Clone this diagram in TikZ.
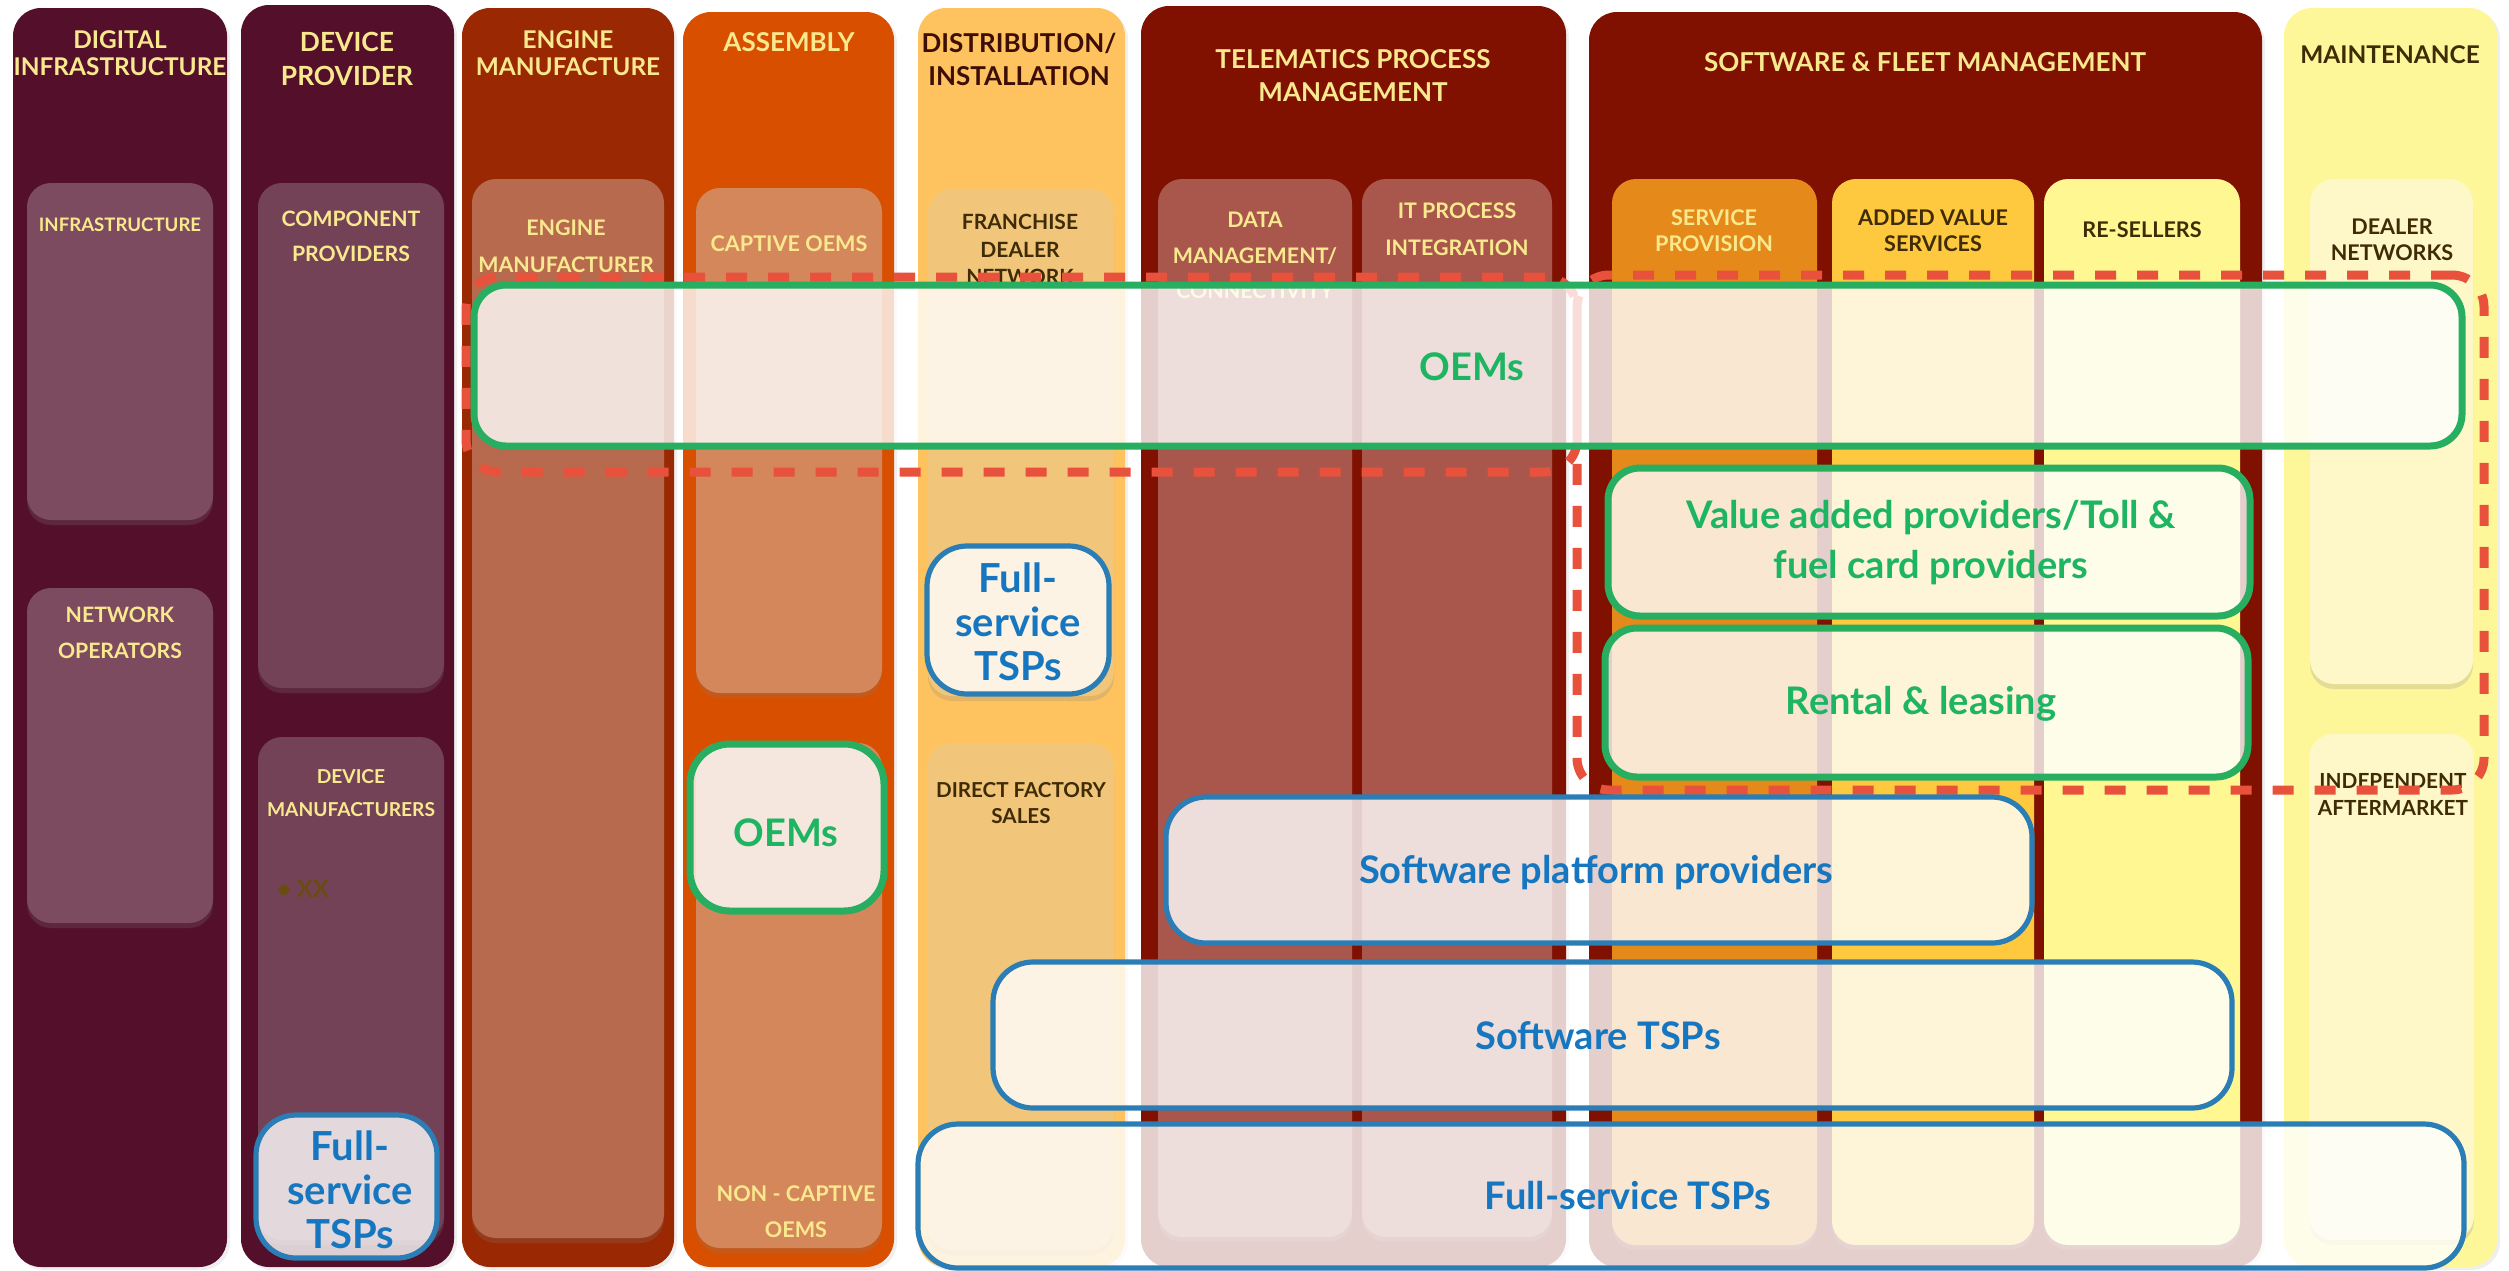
\documentclass[tikz,border=0pt]{standalone}
\usepackage{fontspec}
\setmainfont{Lato}
\usetikzlibrary{fit,shadows}
\definecolor{maroon}{HTML}{54102A}
\definecolor{digin}{HTML}{7D4B5F}
\definecolor{devin}{HTML}{744256}
\definecolor{engc}{HTML}{9A2803}
\definecolor{engin}{HTML}{B86A4E}
\definecolor{asmc}{HTML}{D84F00}
\definecolor{asmin}{HTML}{D5875C}
\definecolor{disc}{HTML}{FEC35E}
\definecolor{disin}{HTML}{F1C67A}
\definecolor{telc}{HTML}{801000}
\definecolor{telin}{HTML}{A9574C}
\definecolor{servc}{HTML}{E5891B}
\definecolor{addc}{HTML}{FEC93F}
\definecolor{resc}{HTML}{FEF792}
\definecolor{mntc}{HTML}{FEF79A}
\definecolor{mntin}{HTML}{FEF7C8}
\definecolor{ttlc}{HTML}{F9E98E}
\definecolor{darkttl}{HTML}{3D0E06}
\definecolor{olivec}{HTML}{3F2C06}
\definecolor{bulc}{HTML}{6A4C12}
\definecolor{grn}{HTML}{27AE60}
\definecolor{grntxt}{HTML}{1DB562}
\definecolor{blu}{HTML}{2A7DB5}
\definecolor{blutxt}{HTML}{1677C0}
\definecolor{rdash}{HTML}{E8513C}
\begin{document}
\begin{tikzpicture}[x=0.5pt,y=-0.5pt,
  col/.style={rounded corners=14pt, inner sep=0pt, outer sep=0pt,
    drop shadow={opacity=0.12, shadow xshift=1.5pt, shadow yshift=-1.5pt}},
  inb/.style={rounded corners=12pt, inner sep=0pt, outer sep=0pt,
    drop shadow={opacity=0.22, shadow xshift=0pt, shadow yshift=-2.5pt}},
  ttl/.style={text=ttlc, align=center, inner sep=0pt},
  lbl/.style={text=ttlc, align=center, inner sep=0pt},
  ov/.style={rounded corners=16pt, inner sep=0pt, outer sep=0pt, fill=white, fill opacity=0.8},
  ovg/.style={ov, draw=grn, line width=3.5pt},
  ovb/.style={ov, draw=blu, line width=2.6pt},
  ovtxt/.style={inner sep=0pt, align=center},
  reddash/.style={draw=rdash, line width=4.5pt, dash pattern=on 10.5pt off 10.5pt,
    rounded corners=16pt, inner sep=0pt, outer sep=0pt}
]
\fill[white] (0,0) rectangle (2509,1270);
\useasboundingbox (0,0) rectangle (2509,1270);

% ---------- columns
\node[col, fill=maroon, fit={(13,8)(227,1267)}] (cDig) {};
\node[col, fill=maroon, fit={(241,5)(454,1267)}] (cDev) {};
\node[col, fill=engc, fit={(462,8)(674,1267)}] (cEng) {};
\node[col, fill=asmc, fit={(683,12)(894,1267)}] (cAsm) {};
\node[col, fill=disc, fit={(918,8)(1125,1267)}] (cDis) {};
\node[col, fill=telc, fit={(1141,6)(1566,1267)}] (cTel) {};
\node[col, fill=telc, fit={(1589,12)(2262,1267)}] (cSw) {};
\node[col, fill=mntc, fit={(2284,8)(2497,1267)}] (cMnt) {};

% ---------- column titles
\node[ttl, font=\bfseries\fontsize{12.2}{13.5}\selectfont] (tDig) at (120,53.5) {DIGITAL\\INFRASTRUCTURE};
\node[ttl, font=\bfseries\fontsize{13.2}{17}\selectfont] (tDev) at (347,59) {DEVICE\\PROVIDER};
\node[ttl, font=\bfseries\fontsize{12.2}{13.5}\selectfont] (tEng) at (568,53.5) {ENGINE\\MANUFACTURE};
\node[ttl, font=\bfseries\fontsize{13}{17}\selectfont] (tAsm) at (789,42) {ASSEMBLY};
\node[ttl, text=darkttl, font=\bfseries\fontsize{13}{16.5}\selectfont] (tDis) at (1019,59.5) {DISTRIBUTION/\\INSTALLATION};
\node[ttl, font=\bfseries\fontsize{13}{16.5}\selectfont] (tTel) at (1353,75.5) {TELEMATICS PROCESS\\MANAGEMENT};
\node[ttl, font=\bfseries\fontsize{13}{16.5}\selectfont] (tSw) at (1925,62) {SOFTWARE \& FLEET MANAGEMENT};
\node[ttl, text=olivec, font=\bfseries\fontsize{12.2}{16.5}\selectfont] (tMnt) at (2390,55) {MAINTENANCE};

% ---------- inner boxes
\node[inb, fill=digin, fit={(27,183)(213,520)}] (iInfra) {};
\node[inb, fill=digin, fit={(27,588)(213,923)}] (iNet) {};
\node[inb, fill=devin, fit={(258,183)(444,688)}] (iComp) {};
\node[inb, fill=devin, fit={(258,737)(444,1240)}] (iDevM) {};
\node[inb, fill=engin, fit={(472,179)(664,1238)}] (iEng) {};
\node[inb, fill=asmin, fit={(696,188)(882,693)}] (iCapt) {};
\node[inb, fill=asmin, fit={(696,743)(882,1248)}] (iNonC) {};
\node[inb, fill=disin, fit={(928,189)(1114,696)}] (iFran) {};
\node[inb, fill=disin, fit={(927,743)(1114,1250)}] (iDir) {};
\node[inb, fill=telin, fit={(1158,179)(1352,1237)}] (iData) {};
\node[inb, fill=telin, fit={(1362,179)(1552,1237)}] (iIT) {};
\node[inb, fill=servc, fit={(1612,179)(1817,1245)}] (iServ) {};
\node[inb, fill=addc, fit={(1832,179)(2034,1245)}] (iAdd) {};
\node[inb, fill=resc, fit={(2044,179)(2240,1245)}] (iRes) {};
\node[inb, fill=mntin, fit={(2310,179)(2473,684)}] (iDeal) {};
\node[inb, fill=mntin, fit={(2309,734)(2474,1240)}] (iInd) {};

% ---------- inner labels
\node[lbl, font=\bfseries\fontsize{9.3}{12}\selectfont] (lInfra) at (120,225) {INFRASTRUCTURE};
\node[lbl, font=\bfseries\fontsize{10.6}{18}\selectfont] (lNet) at (120,633) {NETWORK\\OPERATORS};
\node[lbl, font=\bfseries\fontsize{10.6}{17.5}\selectfont] (lComp) at (351,236.5) {COMPONENT\\PROVIDERS};
\node[lbl, font=\bfseries\fontsize{9.6}{16.5}\selectfont] (lDevM) at (351,793.5) {DEVICE\\MANUFACTURERS};
\node[text=bulc, inner sep=0pt, font=\bfseries\fontsize{12}{14}\selectfont] (lXX) at (303,889) {\textbullet\ XX};
\node[lbl, font=\bfseries\fontsize{10.7}{18.5}\selectfont] (lEng) at (566,246.5) {ENGINE\\MANUFACTURER};
\node[lbl, font=\bfseries\fontsize{10.8}{13}\selectfont] (lCapt) at (789,244) {CAPTIVE OEMS};
\node[lbl, font=\bfseries\fontsize{10.8}{18}\selectfont] (lNonC) at (796,1212) {NON - CAPTIVE\\OEMS};
\node[lbl, text=olivec, font=\bfseries\fontsize{10.5}{13.75}\selectfont] (lFran) at (1020,249.5) {FRANCHISE\\DEALER\\NETWORK};
\node[lbl, text=olivec, font=\bfseries\fontsize{10.3}{13}\selectfont] (lDir) at (1021,803) {DIRECT FACTORY\\SALES};
\node[lbl, font=\bfseries\fontsize{10.7}{17.75}\selectfont] (lData) at (1255,255.5) {DATA\\MANAGEMENT/\\CONNECTIVITY};
\node[lbl, font=\bfseries\fontsize{10.7}{18.5}\selectfont] (lIT) at (1457,229.5) {IT PROCESS\\INTEGRATION};
\node[lbl, font=\bfseries\fontsize{10.8}{13}\selectfont] (lServ) at (1714,231) {SERVICE\\PROVISION};
\node[lbl, text=olivec, font=\bfseries\fontsize{10.8}{13}\selectfont] (lAdd) at (1933,231) {ADDED VALUE\\SERVICES};
\node[lbl, text=olivec, font=\bfseries\fontsize{10.8}{13}\selectfont] (lRes) at (2142,230) {RE-SELLERS};
\node[lbl, text=olivec, font=\bfseries\fontsize{10.8}{13}\selectfont] (lDeal) at (2392,240) {DEALER\\NETWORKS};
\node[lbl, text=olivec, font=\bfseries\fontsize{10.4}{13.5}\selectfont] (lInd) at (2393,794.5) {INDEPENDENT\\AFTERMARKET};

% ---------- red dashed groupings
\node[reddash, fit={(466,277)(1577,472)}] (rA) {};
\node[reddash, fit={(1577,275)(2484,790)}] (rB) {};

% ---------- green groups
\node[ovg, fit={(474,285)(2462,446)}] (gOEM) {};
\node[ovg, fit={(1608,468)(2250,616)}] (gVal) {};
\node[ovg, fit={(1605,628)(2248,777)}] (gRent) {};
\node[ovg, rounded corners=20pt, fit={(690,744)(884,911)}] (gOEMs) {};

% ---------- blue groups
\node[ovb, rounded corners=20pt, fit={(256,1115)(437,1258)}] (bDevFS) {};
\node[ovb, rounded corners=20pt, fit={(927,546)(1109,694)}] (bDisFS) {};
\node[ovb, rounded corners=20pt, fit={(1166,797)(2032,943)}] (bPlat) {};
\node[ovb, rounded corners=20pt, fit={(993,962)(2232,1108)}] (bSwT) {};
\node[ovb, rounded corners=20pt, fit={(918,1124)(2464,1268)}] (bFull) {};

% ---------- overlay texts
\node[ovtxt, text=grntxt, font=\bfseries\fontsize{19}{25}\selectfont] (xOEM) at (1472,367) {OEMs};
\node[ovtxt, text=grntxt, font=\bfseries\fontsize{19}{25}\selectfont] (xVal) at (1931,543) {Value added providers/Toll \&\\fuel card providers};
\node[ovtxt, text=grntxt, font=\bfseries\fontsize{19}{25}\selectfont] (xRent) at (1921,704) {Rental \& leasing};
\node[ovtxt, text=grntxt, font=\bfseries\fontsize{19}{25}\selectfont] (xOEMs) at (786,833) {OEMs};
\node[ovtxt, text=blutxt, font=\bfseries\fontsize{20}{22}\selectfont] (xDevFS) at (350,1190) {Full-\\service\\TSPs};
\node[ovtxt, text=blutxt, font=\bfseries\fontsize{20}{22}\selectfont] (xDisFS) at (1018,622) {Full-\\service\\TSPs};
\node[ovtxt, text=blutxt, font=\bfseries\fontsize{19}{25}\selectfont] (xPlat) at (1596,873) {Software platform providers};
\node[ovtxt, text=blutxt, font=\bfseries\fontsize{19}{25}\selectfont] (xSwT) at (1598,1036) {Software TSPs};
\node[ovtxt, text=blutxt, font=\bfseries\fontsize{19}{25}\selectfont] (xFull) at (1628,1196) {Full-service TSPs};
\end{tikzpicture}
\end{document}
